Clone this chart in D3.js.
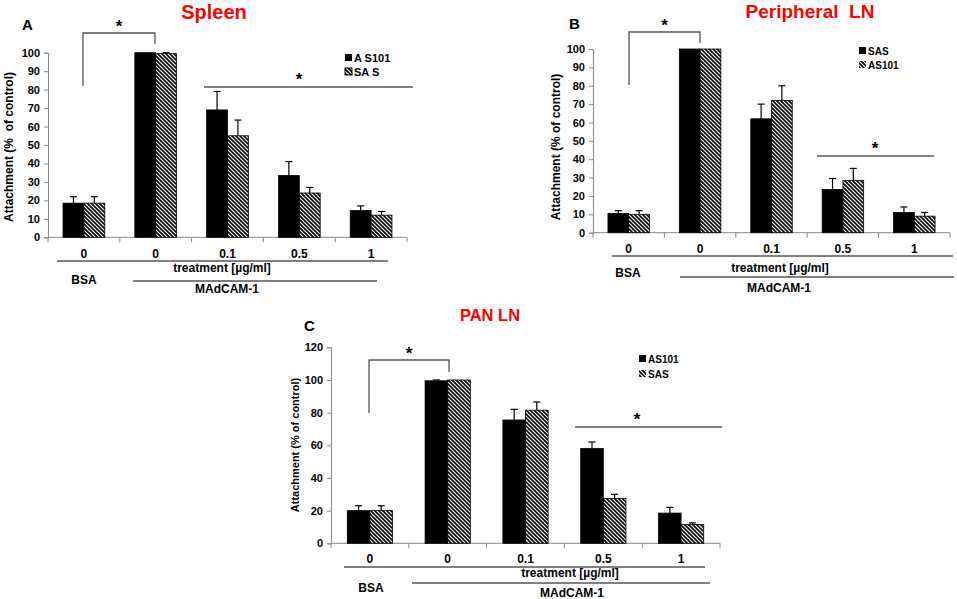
<!DOCTYPE html>
<html><head><meta charset="utf-8">
<script src="https://cdn.jsdelivr.net/npm/d3@7"></script>
<style>
body{margin:0;background:#fff;}
svg text{font-family:"Liberation Sans",Arial,sans-serif;font-weight:bold;}
</style></head>
<body><svg id="c" width="957" height="599"></svg>
<script>
// ---- data ----
const doseLabels = ["0","0","0.1","0.5","1"];
// Panel A: Spleen
const spleenAS101 = [18.5, 100, 69, 33.5, 14.5];
const spleenAS101Err = [3.5, 0, 10, 7.5, 2.5];
const spleenSAS = [18.5, 99.5, 55, 24, 12];
const spleenSASErr = [3.5, 0.5, 8.5, 3, 2];
// Panel B: Peripheral LN
const periSAS = [10.5, 100, 62, 23.5, 11];
const periSASErr = [1.5, 0, 8, 6, 3];
const periAS101 = [10, 100, 72, 28.5, 9];
const periAS101Err = [2, 0, 8, 6.5, 2];
// Panel C: PAN LN
const panAS101 = [20, 99.5, 75.5, 58, 18.5];
const panAS101Err = [3, 0.5, 6.5, 4, 3.5];
const panSAS = [20, 100, 81.5, 27.5, 11.5];
const panSASErr = [3, 0, 5, 2.5, 1];
const yTicksAB = [0,10,20,30,40,50,60,70,80,90,100];
const yTicksC = [0,20,40,60,80,100,120];

const svg = d3.select("#c");
const defs = svg.append("defs");
const pat = defs.append("pattern").attr("id","hatch").attr("patternUnits","userSpaceOnUse")
  .attr("width",4).attr("height",4);
pat.append("rect").attr("width",4).attr("height",4).attr("fill","#fff");
pat.append("path").attr("d","M-1,-1 L5,5 M-1,3 L1,5 M3,-1 L5,1").attr("stroke","#000").attr("stroke-width",1.6);

function panel(cfg){
  const g = svg.append("g");
  const x = d3.scaleBand().domain(d3.range(doseLabels.length)).range([cfg.x0,cfg.x1]);
  const inner = d3.scaleBand().domain([0,1]).range([0,x.bandwidth()]).paddingOuter(0.72).paddingInner(0);
  const y = d3.scaleLinear().domain([0,cfg.ymax]).range([cfg.yb,cfg.yt]);
  // y axis
  const ya = g.append("g").attr("transform",`translate(${cfg.x0},0)`)
    .call(d3.axisLeft(y).tickValues(cfg.yticks).tickSize(4).tickPadding(4));
  ya.selectAll("text").attr("font-size",cfg.tickFs).attr("fill","#000");
  ya.selectAll("line,path").attr("stroke","#888");
  // x axis with ticks at band boundaries
  const xa = g.append("g").attr("transform",`translate(0,${cfg.yb})`);
  xa.append("line").attr("x1",cfg.x0).attr("x2",cfg.x1).attr("stroke","#888");
  const bounds = d3.range(doseLabels.length+1).map(i=> i<doseLabels.length ? x(i) : cfg.x1);
  xa.selectAll("line.t").data(bounds).join("line").attr("class","t")
    .attr("x1",d=>d).attr("x2",d=>d).attr("y1",0).attr("y2",5).attr("stroke","#888");
  g.selectAll("text.xl").data(doseLabels).join("text").attr("class","xl")
    .attr("x",(d,i)=>x(i)+x.bandwidth()/2).attr("y",cfg.xlY).attr("text-anchor","middle")
    .attr("font-size",cfg.xlFs).text(d=>d);
  // bars
  cfg.series.forEach((s,si)=>{
    g.selectAll(null).data(s.vals).join("rect")
      .attr("x",(d,i)=>x(i)+inner(si)).attr("width",inner.bandwidth())
      .attr("y",d=>y(d)).attr("height",d=>y(0)-y(d))
      .attr("fill",s.hatch?"url(#hatch)":"#000").attr("stroke","#000").attr("stroke-width",0.8);
    g.selectAll(null).data(s.vals).join("g").each(function(d,i){
      const e = s.err[i]; if(!e) return;
      const cx = x(i)+inner(si)+inner.bandwidth()/2;
      const sel = d3.select(this);
      sel.append("line").attr("x1",cx).attr("x2",cx).attr("y1",y(d)).attr("y2",y(d+e)).attr("stroke","#000").attr("stroke-width",1.2);
      sel.append("line").attr("x1",cx-3.5).attr("x2",cx+3.5).attr("y1",y(d+e)).attr("y2",y(d+e)).attr("stroke","#000").attr("stroke-width",1.2);
    });
  });
  // legend
  cfg.series.forEach((s,si)=>{
    const ly = cfg.legY + si*cfg.legDy;
    g.append("rect").attr("x",cfg.legX).attr("y",ly-4).attr("width",7).attr("height",7)
      .attr("fill",s.hatch?"url(#hatch)":"#000").attr("stroke",s.hatch&&cfg.legBox?"#000":"none");
    g.append("text").attr("x",cfg.legX+9).attr("y",ly+4).attr("font-size",cfg.legFs).text(s.name);
  });
  // title / letter
  g.append("text").attr("x",cfg.titleX).attr("y",cfg.titleY).attr("text-anchor","middle")
    .attr("fill","#ff0000").attr("font-size",cfg.titleFs).style("white-space","pre").text(cfg.title);
  g.append("text").attr("x",cfg.letX).attr("y",cfg.letY).attr("font-size",15).text(cfg.letter);
  // y title
  g.append("text").attr("transform",`translate(${cfg.ytX},${cfg.ytY}) rotate(-90)`)
    .attr("text-anchor","middle").attr("font-size",cfg.ytFs).style("white-space","pre").text(cfg.ytitle);
  // bracket
  const b = cfg.bracket;
  g.append("path").attr("d",`M${b[0]},${b[1]} V${b[2]} H${b[3]} V${b[4]}`).attr("fill","none").attr("stroke","#555").attr("stroke-width",1.3);
  g.append("text").attr("x",(b[0]+b[3])/2).attr("y",b[2]-1).attr("text-anchor","middle").attr("font-size",17).attr("font-weight","normal").text("*");
  const h = cfg.hline;
  g.append("line").attr("x1",h[0]).attr("x2",h[1]).attr("y1",h[2]).attr("y2",h[2]).attr("stroke","#555").attr("stroke-width",1.3);
  g.append("text").attr("x",h[3]).attr("y",h[2]-2).attr("text-anchor","middle").attr("font-size",17).attr("font-weight","normal").text("*");
  // group labels and lines
  const L = cfg.lines;
  g.append("line").attr("x1",L.l1[0]).attr("x2",L.l1[1]).attr("y1",L.l1[2]).attr("y2",L.l1[2]).attr("stroke","#000");
  g.append("line").attr("x1",L.l2[0]).attr("x2",L.l2[1]).attr("y1",L.l2[2]).attr("y2",L.l2[2]).attr("stroke","#000");
  g.append("text").attr("x",L.tr[0]).attr("y",L.tr[1]).attr("text-anchor","middle").attr("font-size",cfg.xlFs).text("treatment [µg/ml]");
  g.append("text").attr("x",L.bsa[0]).attr("y",L.bsa[1]).attr("text-anchor","middle").attr("font-size",cfg.xlFs).text("BSA");
  g.append("text").attr("x",L.mad[0]).attr("y",L.mad[1]).attr("text-anchor","middle").attr("font-size",cfg.xlFs).text("MAdCAM-1");
}

panel({x0:48,x1:407,yt:52.7,yb:237.3,ymax:100,yticks:yTicksAB,tickFs:11,xlFs:12,xlY:258,
  series:[{name:"A S101",vals:spleenAS101,err:spleenAS101Err,hatch:false},
          {name:"SA S",vals:spleenSAS,err:spleenSASErr,hatch:true}],
  legX:345,legY:58,legDy:14,legFs:11,legBox:true,
  title:"Spleen",titleFs:20,titleX:214,titleY:19,letter:"A",letX:22,letY:30,
  ytitle:"Attachment (%  of control)",ytX:13,ytY:147,ytFs:12,
  bracket:[83,86,33,155,44],hline:[204,413,87,299],
  lines:{l1:[57,388,261],l2:[133,377,281],tr:[222,272],bsa:[84,284],mad:[227,293]}});

panel({x0:593,x1:950,yt:49,yb:232.7,ymax:100,yticks:yTicksAB,tickFs:11,xlFs:12,xlY:253,
  series:[{name:"SAS",vals:periSAS,err:periSASErr,hatch:false},
          {name:"AS101",vals:periAS101,err:periAS101Err,hatch:true}],
  legX:859,legY:51,legDy:14,legFs:10,legBox:false,
  title:"Peripheral  LN",titleFs:19,titleX:810,titleY:18,letter:"B",letX:569,letY:29,
  ytitle:"Attachment (% of control)",ytX:560,ytY:147,ytFs:12,
  bracket:[629,85,32,700,43],hline:[817,934,156,875],
  lines:{l1:[612,953,256],l2:[680,954,277],tr:[780,272],bsa:[628,277],mad:[779,292]}});

panel({x0:331,x1:720,yt:347.3,yb:543.3,ymax:120,yticks:yTicksC,tickFs:11,xlFs:12,xlY:563,
  series:[{name:"AS101",vals:panAS101,err:panAS101Err,hatch:false},
          {name:"SAS",vals:panSAS,err:panSASErr,hatch:true}],
  legX:639,legY:359,legDy:15,legFs:10,legBox:false,
  title:"PAN LN",titleFs:16.5,titleX:490,titleY:321,letter:"C",letX:304,letY:331,
  ytitle:"Attachment (% of control)",ytX:299,ytY:445,ytFs:11,
  bracket:[369,413,360,449,372],hline:[575,722,427,637],
  lines:{l1:[344,705,567],l2:[412,710,583],tr:[570,577],bsa:[371,592],mad:[572,597]}});
</script></body></html>
